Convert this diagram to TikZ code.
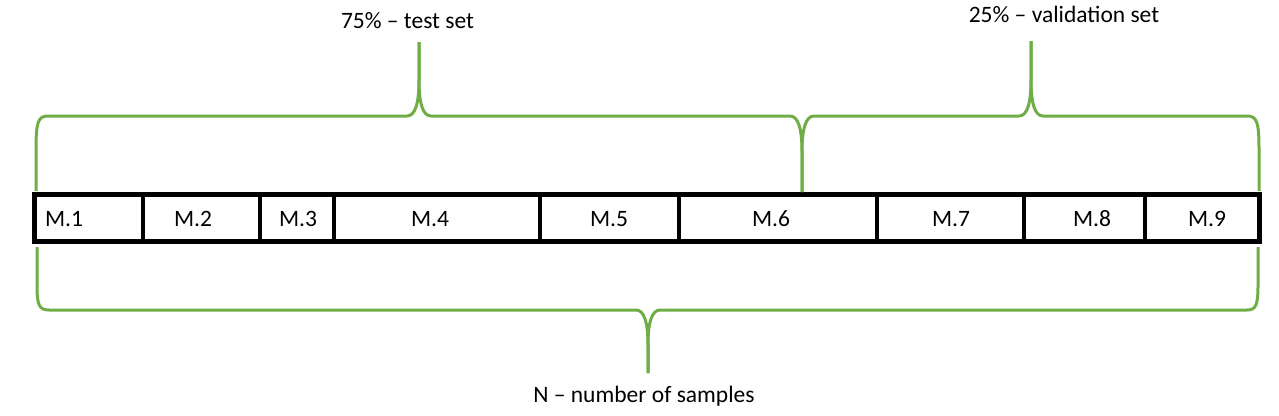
\documentclass[tikz,border=0pt]{standalone}
\usepackage{fontspec}
\setmainfont{Carlito}
\definecolor{bracegreen}{RGB}{112,173,71}
\begin{document}
\begin{tikzpicture}[x=1pt,y=-1pt,
  cell/.style={rectangle,inner sep=0pt,outer sep=0pt,minimum height=47pt},
  txt/.style={inner sep=0pt,anchor=base,font=\fontsize{23.5}{28}\selectfont},
  divider/.style={line width=4pt,black},
  frame/.style={line width=5pt,black,line cap=rect},
  brace/.style={line width=3pt,bracegreen,line join=round}]
\useasboundingbox (0,0) rectangle (1279,415);
% cells (left, right edges)
\node[cell,minimum width=108.5pt] (m1) at (88.75,218) {};
\node[cell,minimum width=117pt]   (m2) at (201.5,218) {};
\node[cell,minimum width=73.5pt]  (m3) at (296.75,218) {};
\node[cell,minimum width=206pt]   (m4) at (436.5,218) {};
\node[cell,minimum width=139pt]   (m5) at (609,218) {};
\node[cell,minimum width=198pt]   (m6) at (777.5,218) {};
\node[cell,minimum width=147pt]   (m7) at (950,218) {};
\node[cell,minimum width=122pt]   (m8) at (1084,218) {};
\node[cell,minimum width=114pt]   (m9) at (1202,218) {};
% labels
\node[txt] (l1) at (64,226) {M.1};
\node[txt] (l2) at (193,226) {M.2};
\node[txt] (l3) at (298,226) {M.3};
\node[txt] (l4) at (430,226) {M.4};
\node[txt] (l5) at (609,226) {M.5};
\node[txt] (l6) at (771,226) {M.6};
\node[txt] (l7) at (951,226) {M.7};
\node[txt] (l8) at (1092,226) {M.8};
\node[txt] (l9) at (1207,226) {M.9};
% dividers
\foreach \a in {1,...,8}{
  \draw[divider] (m\a.north east) -- (m\a.south east);
}
\draw[frame] (m1.north west) rectangle (m9.south east);
% brace tips
\coordinate (tiptest) at (419,42);
\coordinate (tipval) at (1031,41);
\coordinate (tipmid) at (802,192);
\coordinate (tipn) at (648,373);
% test set brace
\draw[brace] (36,191) -- (36,150) .. controls (36,122) and (38,116) .. (48,116)
  -- (407,116) .. controls (415,116) and (419,104) .. (419,80) -- (tiptest);
\draw[brace] (tiptest) -- (419,80) .. controls (419,104) and (423,116) .. (431,116)
  -- (790,116) .. controls (798,116) and (802,128) .. (802,152) -- (tipmid);
% validation set brace
\draw[brace] (tipmid) -- (802,152) .. controls (802,128) and (806,116) .. (814,116)
  -- (1019,116) .. controls (1027,116) and (1031,104) .. (1031,80) -- (tipval);
\draw[brace] (tipval) -- (1031,80) .. controls (1031,104) and (1035,116) .. (1043,116)
  -- (1247,116) .. controls (1257,116) and (1259,122) .. (1259,150) -- (1259,191);
% bottom brace
\draw[brace] (37,247) -- (37,285) .. controls (37,305) and (39,310) .. (49,310)
  -- (636,310) .. controls (644,310) and (648,322) .. (648,345) -- (tipn);
\draw[brace] (tipn) -- (648,345) .. controls (648,322) and (652,310) .. (660,310)
  -- (1247,310) .. controls (1256,310) and (1258,305) .. (1258,285) -- (1258,247);
% texts
\node[txt] (ttest) at (407.5,28) {75\% – test set};
\node[txt] (tval) at (1064,22) {25\% – validation set};
\node[txt] (tn) at (644,402) {N – number of samples};
\end{tikzpicture}
\end{document}
